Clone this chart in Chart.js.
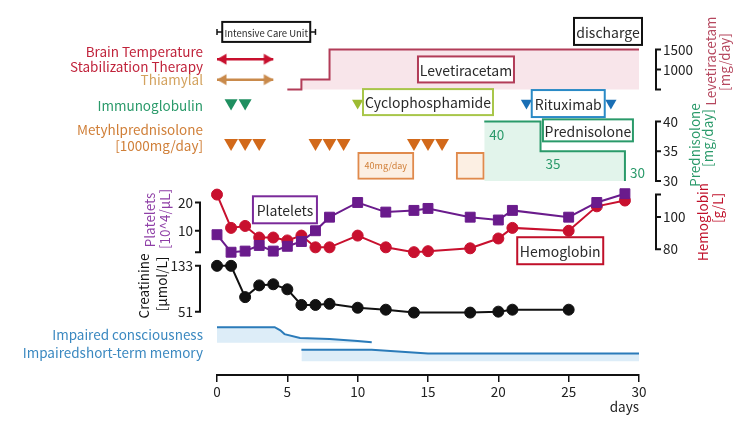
<!DOCTYPE html>
<html><head><meta charset="utf-8">
<script src="https://cdn.jsdelivr.net/npm/chart.js@4.4.1/dist/chart.umd.min.js"></script>
<style>html,body{margin:0;padding:0;background:#fff;}</style>
</head><body>
<canvas id="c" width="750" height="422"></canvas>
<script>
// ---------------- DATA ----------------
const labDays = [0,1,2,3,4,5,6,7,8,10,12,14,15,18,20,21,25,27,29];
const platelets = [8.6,2.4,2.8,4.8,2.8,4.5,6.2,10,14.8,20,16.6,17.2,17.9,14.8,13.8,17.2,14.8,20,23.1];
const hemoglobin = [114,93.3,94.5,87.3,87.3,85.5,88.5,81.2,81.2,88.5,81.2,78.2,78.8,80.6,86.7,93.3,91.5,106.7,110.3];
const creatinineDays = [0,1,2,3,4,5,6,7,8,10,12,14,18,20,21,25];
const creatinine = [133,133,77,98,100,91,63,63,65,58,54.5,49.3,49.3,51,54.5,54.5];
const levetiracetamDays = [5,6,8,30];
const levetiracetamDose = [500,750,1500,1500];
const prednisoloneDays = [19,23,29];
const prednisoloneDose = [40,35,30];
const prednisolone40Periods = [[10,14],[17,19]];
const immunoglobulinDays = [1,2];
const methylprednisoloneDays = [1,2,3,7,8,9,14,15,16];
const cyclophosphamideDays = [10];
const rituximabDays = [22,28];
const brainTempPeriod = [0,4];
const thiamylalPeriod = [0,4];
const icuPeriod = [0,7];
const dischargeDay = 30;
const consciousnessDays = [0,4.1,4.5,4.8,5.9,8,10,11];
const consciousnessLevel = [1,1,0.8,0.56,0.31,0.25,0.12,0.03];
const memoryDays = [6,11,15,30];
const memoryLevel = [1,1,0.67,0.67];
const dayTicks = [0,5,10,15,20,25,30];
const plateletTicks = [10,20];
const hemoglobinTicks = [80,100];
const creatinineTicks = [51,133];
const levetiracetamTicks = [1000,1500];
const prednisoloneTicks = [30,35,40];

// ---------------- LAYOUT ----------------
const FONT = '"Noto Sans CJK JP", "Noto Sans", sans-serif';
const TOP = 0, BOTTOM = 375;
function band(v1, p1, v2, p2) {
  const k = (v2 - v1) / (p1 - p2);
  return {min: v1 - (BOTTOM - p1) * k, max: v2 + (p2 - TOP) * k};
}
const LANE = {icu:23, brain:51, thiamylal:72, drugs:96, mpsl:137, pulse:160.5};
const LEV_BASE = 500, PRED_BASE = 30;

function arrowHead(color, dir) {
  const c = document.createElement('canvas');
  c.width = 24; c.height = 14;
  const g = c.getContext('2d');
  g.fillStyle = color; g.beginPath();
  if (dir > 0) { g.moveTo(12,7); g.lineTo(2.5,1.5); g.lineTo(2.5,12.5); }
  else { g.moveTo(12,7); g.lineTo(21.5,1.5); g.lineTo(21.5,12.5); }
  g.closePath(); g.fill();
  return c;
}
const pts = (days, vals) => days.map((d,i) => ({x:d, y:vals[i]}));
const lanePts = (days, lane) => days.map(d => ({x:d, y:lane}));

const hidden = (extra) => Object.assign({type:'linear', axis:'y', display:false, offset:false}, extra);

const RED = '#c8102e', TAN = '#c98a4b', GREEN = '#1f8f60', ORANGE = '#d2691a';
const PURPLE = '#6a1b8c', BLUE = '#2b7bb9';

const datasets = [
  {data: lanePts(icuPeriod, LANE.icu), yAxisID:'yLane', borderColor:'#111', borderWidth:1.5,
   pointStyle:'line', rotation:90, pointRadius:3, pointBorderColor:'#111', pointBorderWidth:1.5, order:1},
  {data: lanePts(brainTempPeriod, LANE.brain), yAxisID:'yLane', borderColor:RED, borderWidth:2.5,
   pointStyle:[arrowHead(RED,-1), arrowHead(RED,1)], pointRadius:7, order:1},
  {data: lanePts(thiamylalPeriod, LANE.thiamylal), yAxisID:'yLane', borderColor:TAN, borderWidth:2.5,
   pointStyle:[arrowHead(TAN,-1), arrowHead(TAN,1)], pointRadius:7, order:1},
  {data: lanePts(immunoglobulinDays, LANE.drugs), yAxisID:'yLane', showLine:false, pointStyle:'triangle', rotation:180,
   pointRadius:7.5, pointBackgroundColor:GREEN, pointBorderWidth:0, order:1},
  {data: lanePts(cyclophosphamideDays, LANE.drugs), yAxisID:'yLane', showLine:false, pointStyle:'triangle', rotation:180,
   pointRadius:6.5, pointBackgroundColor:'#9dbb32', pointBorderWidth:0, order:1},
  {data: lanePts(rituximabDays, LANE.drugs), yAxisID:'yLane', showLine:false, pointStyle:'triangle', rotation:180,
   pointRadius:6.5, pointBackgroundColor:'#1a6fb5', pointBorderWidth:0, order:1},
  {data: lanePts(methylprednisoloneDays, LANE.mpsl), yAxisID:'yLane', showLine:false, pointStyle:'triangle', rotation:180,
   pointRadius:8, pointBackgroundColor:ORANGE, pointBorderWidth:0, order:1},
  {type:'bar', indexAxis:'y', xAxisID:'x', yAxisID:'yLane', data: prednisolone40Periods.map(p => ({x:p, y:LANE.pulse})),
   barThickness:27, backgroundColor:'#fcefe3', borderColor:'#e08a4c', borderWidth:2, borderSkipped:false, order:4},
  {data: pts(labDays, platelets), yAxisID:'yPlt', borderColor:PURPLE, borderWidth:2, pointStyle:'rect',
   pointRadius:7, pointBackgroundColor:PURPLE, pointBorderColor:PURPLE, pointBorderWidth:1, order:1},
  {data: pts(labDays, hemoglobin), yAxisID:'yHb', borderColor:RED, borderWidth:2, pointStyle:'circle',
   pointRadius:5.5, pointBackgroundColor:RED, pointBorderColor:RED, pointBorderWidth:1, order:2},
  {data: pts(creatinineDays, creatinine), yAxisID:'yCr', borderColor:'#111', borderWidth:2, pointStyle:'circle',
   pointRadius:5.5, pointBackgroundColor:'#111', pointBorderColor:'#111', pointBorderWidth:1, order:1},
  {data: pts(levetiracetamDays, levetiracetamDose), yAxisID:'yLev', stepped:true, borderColor:'#b23c58', borderWidth:2,
   pointRadius:0, fill:{value:LEV_BASE}, backgroundColor:'#f8e5ea', order:6},
  {data: pts(prednisoloneDays, prednisoloneDose), yAxisID:'yPred', stepped:true, borderColor:'#2a9a6a', borderWidth:2,
   pointRadius:0, fill:{value:PRED_BASE}, backgroundColor:'#e2f4eb', order:6},
  {data: pts(consciousnessDays, consciousnessLevel), yAxisID:'yCons', borderColor:BLUE, borderWidth:2,
   pointRadius:0, fill:{value:0}, backgroundColor:'#ddedf8', order:6},
  {data: pts(memoryDays, memoryLevel), yAxisID:'yMem', borderColor:BLUE, borderWidth:2,
   pointRadius:0, fill:{value:0}, backgroundColor:'#ddedf8', order:6}
];
datasets.forEach(d => { d.clip = false; if (!d.type) d.type = 'line'; });

const ROW_LABELS = [
  {t:'Brain Temperature', lane:43, c:'#c0233b'},
  {t:'Stabilization Therapy', lane:59, c:'#c0233b'},
  {t:'Thiamylal', lane:72, c:'#d3a25e'},
  {t:'Immunoglobulin', lane:99, c:'#2a9a6a'},
  {t:'Metyhlprednisolone', lane:123, c:'#d07f38'},
  {t:'[1000mg/day]', lane:140, c:'#d07f38'},
  {t:'Impaired consciousness', lane:334, c:'#3a88c0'},
  {t:'Impairedshort-term memory', lane:352, c:'#3a88c0'}
];
const BOXES = [
  {t:'Intensive Care Unit', day:(icuPeriod[0]+icuPeriod[1])/2, lane:23, w:88, h:20, c:'#111', size:9.5},
  {t:'discharge', day:dischargeDay, dx:-31, lane:22.5, w:68, h:27, c:'#111', size:14},
  {t:'Levetiracetam', day:17.7, lane:61.5, w:96, h:26, c:'#b23c58', size:14},
  {t:'Cyclophosphamide', day:15.0, lane:95, w:130, h:26, c:'#a8c64a', size:14},
  {t:'Rituximab', day:24.97, lane:96.5, w:73, h:27, c:'#2a8ac6', size:14},
  {t:'Prednisolone', day:26.37, lane:124, w:90, h:22, c:'#2a9a6a', size:14},
  {t:'Platelets', day:4.83, lane:205.5, w:64, h:27, c:'#7a2a9a', size:14},
  {t:'Hemoglobin', day:24.4, lane:247.5, w:86, h:27, c:'#c0102a', size:14}
];
const BRACKETS = [
  {axis:'yLev', side:1, range:[500,1500], ticks:levetiracetamTicks},
  {axis:'yPred', side:1, range:[30,40], ticks:prednisoloneTicks},
  {axis:'yHb', side:1, range:[80,114], ticks:hemoglobinTicks},
  {axis:'yPlt', side:-1, range:[2.4,20], ticks:plateletTicks},
  {axis:'yCr', side:-1, range:[51,133], ticks:creatinineTicks}
];
const TITLES = [
  {lines:['Platelets','[10^4/μL]'], xs:[150,165], ys:[220,219], c:'#8e3ea6'},
  {lines:['Creatinine','[μmol/L]'], xs:[144,162], ys:[286,284], c:'#111'},
  {lines:['Levetiracetam','[mg/day]'], xs:[711,725], ys:[61,62], c:'#b5475e'},
  {lines:['Prednisolone','[mg/day]'], xs:[695,708], ys:[145,138], c:'#2a9a6a'},
  {lines:['Hemoglobin','[g/L]'], xs:[703,718], ys:[222,208], c:'#c0102a'}
];

const annot = {
  id:'annot',
  afterDatasetsDraw(chart) {
    const {ctx, chartArea:A, scales:S} = chart;
    const px = d => S.x.getPixelForValue(d);
    const py = l => S.yLane.getPixelForValue(l);
    ctx.save();
    ctx.textAlign = 'right'; ctx.textBaseline = 'middle';
    ctx.font = '13.5px ' + FONT;
    ROW_LABELS.forEach(r => { ctx.fillStyle = r.c; ctx.fillText(r.t, A.left - 14, py(r.lane)); });
    const p0 = prednisolone40Periods[0];
    ctx.font = '9px ' + FONT; ctx.fillStyle = '#d07f38'; ctx.textAlign = 'center';
    ctx.fillText('40mg/day', (px(p0[0]) + px(p0[1])) / 2, py(LANE.pulse));
    ctx.font = '13.5px ' + FONT; ctx.fillStyle = '#2a9a6a'; ctx.textAlign = 'left';
    prednisoloneDays.forEach((d,i) => {
      const last = i === prednisoloneDays.length - 1;
      const y = S.yPred.getPixelForValue(prednisoloneDose[i]) + (last ? -8 : 13);
      ctx.fillText(String(prednisoloneDose[i]), px(d) + 5, y);
    });
    BOXES.forEach(b => {
      const cx = px(b.day) + (b.dx || 0), cy = py(b.lane);
      ctx.fillStyle = '#fff'; ctx.fillRect(cx - b.w/2, cy - b.h/2, b.w, b.h);
      ctx.lineWidth = 2; ctx.strokeStyle = b.c; ctx.strokeRect(cx - b.w/2, cy - b.h/2, b.w, b.h);
      ctx.fillStyle = '#2a2a2a'; ctx.font = b.size + 'px ' + FONT; ctx.textAlign = 'center'; ctx.textBaseline = 'middle';
      ctx.fillText(b.t, cx, cy + 1);
    });
    BRACKETS.forEach(b => {
      const sc = S[b.axis];
      const bx = b.side > 0 ? A.right + 17 : A.left - 17;
      const y0 = sc.getPixelForValue(b.range[1]), y1 = sc.getPixelForValue(b.range[0]);
      ctx.strokeStyle = '#111'; ctx.lineWidth = 2; ctx.beginPath();
      ctx.moveTo(bx + b.side*5, y0); ctx.lineTo(bx, y0); ctx.lineTo(bx, y1); ctx.lineTo(bx + b.side*5, y1);
      b.ticks.forEach(t => { const y = sc.getPixelForValue(t); ctx.moveTo(bx, y); ctx.lineTo(bx + b.side*5, y); });
      ctx.stroke();
      ctx.fillStyle = '#222'; ctx.font = '13.5px ' + FONT; ctx.textBaseline = 'middle';
      ctx.textAlign = b.side > 0 ? 'left' : 'right';
      b.ticks.forEach(t => ctx.fillText(String(t), bx + b.side*7, sc.getPixelForValue(t)));
    });
    TITLES.forEach(t => t.lines.forEach((ln, i) => {
      ctx.save(); ctx.translate(t.xs[i], t.ys[i]); ctx.rotate(-Math.PI/2);
      ctx.fillStyle = t.c; ctx.font = '13.5px ' + FONT; ctx.textAlign = 'center'; ctx.textBaseline = 'middle';
      ctx.fillText(ln, 0, 0); ctx.restore();
    }));
    ctx.restore();
  }
};

new Chart(document.getElementById('c'), {
  type:'line',
  data:{datasets},
  options:{
    responsive:false, animation:false, devicePixelRatio:1, events:[],
    layout:{padding:{left:217, right:111, top:TOP, bottom:0}},
    plugins:{legend:{display:false}, tooltip:{enabled:false}},
    scales:{
      x:{type:'linear', axis:'x', position:'bottom', min:0, max:30, offset:false,
         afterBuildTicks: s => { s.ticks = dayTicks.map(v => ({value:v})); },
         afterFit: s => { s.height = 422 - BOTTOM; s.paddingLeft = 0; s.paddingRight = 0; },
         border:{display:true, color:'#111', width:2},
         grid:{display:true, drawOnChartArea:false, drawTicks:true, tickLength:7, color:'#111', lineWidth:1.5, offset:false},
         ticks:{color:'#222', font:{size:13.5, family:FONT}, padding:2, maxRotation:0, autoSkip:false},
         title:{display:true, text:'days', align:'end', color:'#222', font:{size:13.5, family:FONT}, padding:{top:0, bottom:7}}},
      yLane: hidden({min:0, max:BOTTOM, reverse:true, grid:{offset:false}}),
      yPlt: hidden(band(10,227,20,198)),
      yHb: hidden(band(80,246,100,213)),
      yCr: hidden(band(51,310,133,263)),
      yLev: hidden(band(500,82,1500,41)),
      yPred: hidden(band(30,176,40,115)),
      yCons: hidden(band(0,342,1,326)),
      yMem: hidden(band(0,361,1,349))
    }
  },
  plugins:[annot]
});
</script>
</body></html>
